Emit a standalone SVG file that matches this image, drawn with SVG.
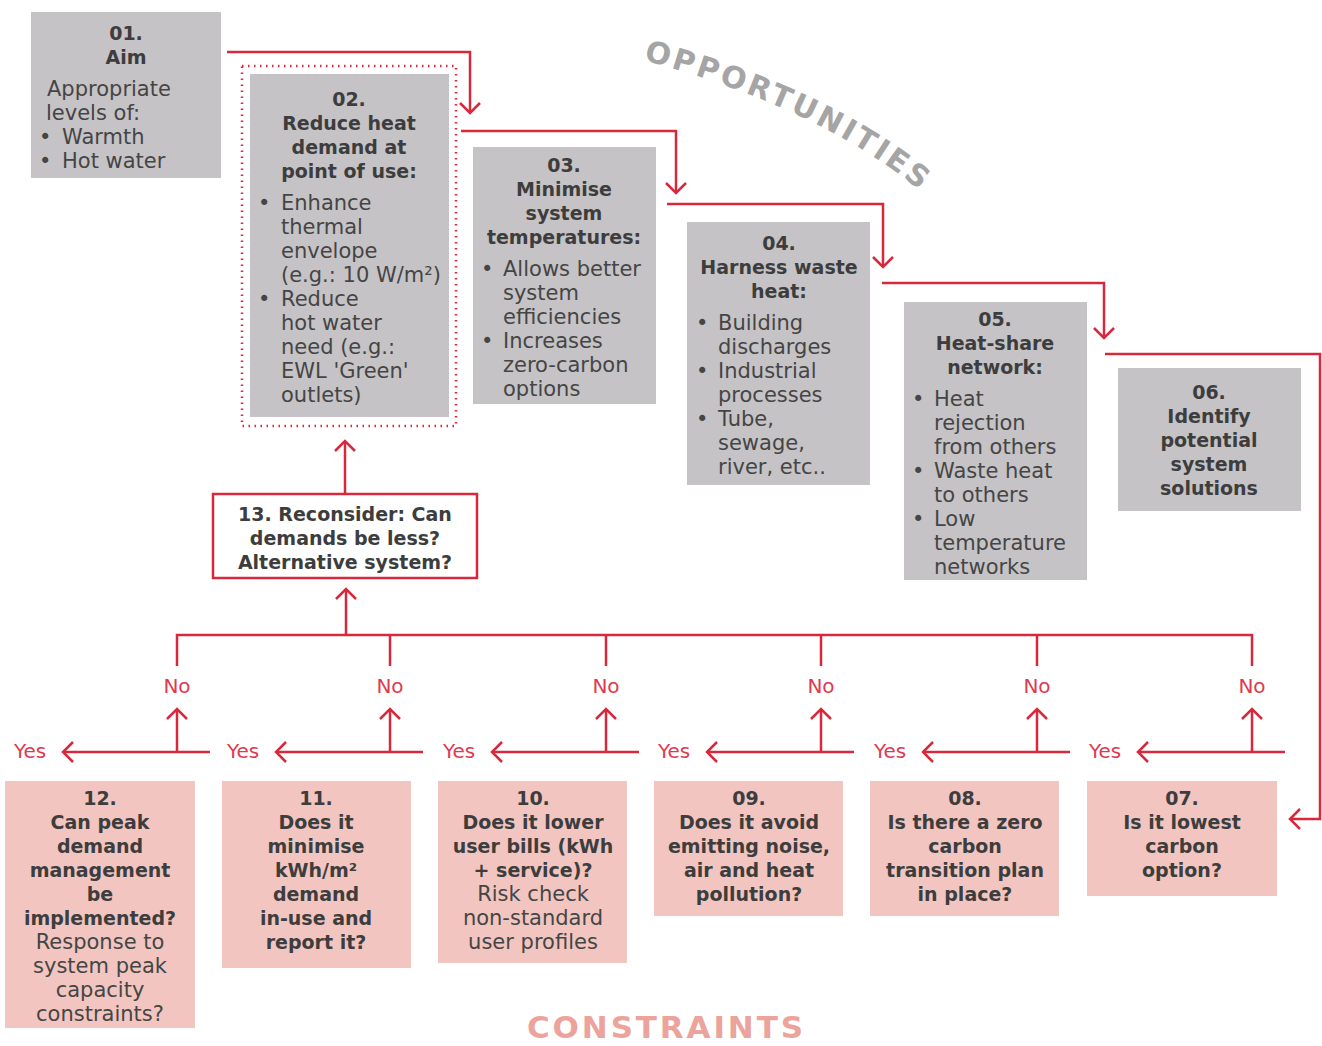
<svg xmlns="http://www.w3.org/2000/svg" width="1322" height="1046" viewBox="0 0 1322 1046">
<style>
.box{fill:#c5c3c5}
.pbox{fill:#f2c5c0}
.h{font-family:'DejaVu Sans',sans-serif;font-weight:bold;font-size:19px;fill:#3d3d3d;text-anchor:middle}
.t{font-family:'DejaVu Sans',sans-serif;font-size:21px;fill:#454545}
.tc{font-family:'DejaVu Sans',sans-serif;font-size:21px;fill:#454545;text-anchor:middle}
.yn{font-family:'DejaVu Sans',sans-serif;font-size:20px;fill:#e0394f}
.no{text-anchor:middle}
.c{fill:none;stroke:#d7283c;stroke-width:2.5}
.ca{fill:none;stroke:#d7283c;stroke-width:2.5;marker-end:url(#ah)}
</style>
<defs>
<marker id="ah" viewBox="-12 -12 24 24" markerWidth="24" markerHeight="24" markerUnits="userSpaceOnUse" orient="auto">
<path d="M-10,-10 L0,0 L-10,10" fill="none" stroke="#d7283c" stroke-width="2.5"/>
</marker>
<path id="oppPath" d="M643,60 Q822,108 924,194"/>
</defs>

<text font-family="'DejaVu Sans',sans-serif" font-weight="bold" font-size="30" fill="#a5a5a5" letter-spacing="3"><textPath href="#oppPath">OPPORTUNITIES</textPath></text>
<text x="527" y="1038" font-family="'DejaVu Sans',sans-serif" font-weight="bold" font-size="31" fill="#eba39c" textLength="276" lengthAdjust="spacing">CONSTRAINTS</text>

<g id="connectors">
<path class="ca" d="M227,52 H470 V113"/>
<path class="ca" d="M461,131 H676 V193"/>
<path class="ca" d="M667,204 H883 V267"/>
<path class="ca" d="M882,283 H1104 V338"/>
<path class="ca" d="M1105,354 H1320 V819 H1290"/>
<path class="ca" d="M345,494 V441"/>
<path class="ca" d="M346,635 V589"/>
<path class="c" d="M177,666 V635 H1252 V666"/>
<path class="c" d="M390,635 V666 M606,635 V666 M821,635 V666 M1037,635 V666"/>
<path class="ca" d="M210,752 H63"/><path class="ca" d="M177,752 V709"/>
<path class="ca" d="M423,752 H276"/><path class="ca" d="M390,752 V709"/>
<path class="ca" d="M639,752 H492"/><path class="ca" d="M606,752 V709"/>
<path class="ca" d="M854,752 H707"/><path class="ca" d="M821,752 V709"/>
<path class="ca" d="M1070,752 H923"/><path class="ca" d="M1037,752 V709"/>
<path class="ca" d="M1285,752 H1138"/><path class="ca" d="M1252,752 V709"/>
</g>

<g id="labels">
<text class="yn no" x="177" y="693">No</text><text class="yn" x="14" y="758">Yes</text>
<text class="yn no" x="390" y="693">No</text><text class="yn" x="227" y="758">Yes</text>
<text class="yn no" x="606" y="693">No</text><text class="yn" x="443" y="758">Yes</text>
<text class="yn no" x="821" y="693">No</text><text class="yn" x="658" y="758">Yes</text>
<text class="yn no" x="1037" y="693">No</text><text class="yn" x="874" y="758">Yes</text>
<text class="yn no" x="1252" y="693">No</text><text class="yn" x="1089" y="758">Yes</text>
</g>

<g id="n01">
<rect class="box" x="31" y="12" width="190" height="166"/>
<text class="h" x="126" y="40">01.</text>
<text class="h" x="126" y="64">Aim</text>
<text class="t" x="47" y="96">Appropriate</text>
<text class="t" x="46" y="120">levels of:</text>
<text class="t" x="39" y="144">•</text><text class="t" x="62" y="144">Warmth</text>
<text class="t" x="39" y="168">•</text><text class="t" x="62" y="168">Hot water</text>
</g>

<g id="n02">
<rect x="242" y="66" width="214" height="360" fill="none" stroke="#e0283c" stroke-width="2.5" stroke-dasharray="1.5 4.5"/>
<rect class="box" x="250" y="74" width="199" height="343"/>
<text class="h" x="349" y="106">02.</text>
<text class="h" x="349" y="130">Reduce heat</text>
<text class="h" x="349" y="154">demand at</text>
<text class="h" x="349" y="178">point of use:</text>
<text class="t" x="258" y="210">•</text><text class="t" x="281" y="210">Enhance</text>
<text class="t" x="281" y="234">thermal</text>
<text class="t" x="281" y="258">envelope</text>
<text class="t" x="281" y="282">(e.g.: 10 W/m²)</text>
<text class="t" x="258" y="306">•</text><text class="t" x="281" y="306">Reduce</text>
<text class="t" x="281" y="330">hot water</text>
<text class="t" x="281" y="354">need (e.g.:</text>
<text class="t" x="281" y="378">EWL 'Green'</text>
<text class="t" x="281" y="402">outlets)</text>
</g>

<g id="n03">
<rect class="box" x="473" y="147" width="183" height="257"/>
<text class="h" x="564" y="172">03.</text>
<text class="h" x="564" y="196">Minimise</text>
<text class="h" x="564" y="220">system</text>
<text class="h" x="564" y="244">temperatures:</text>
<text class="t" x="481" y="276">•</text><text class="t" x="503" y="276">Allows better</text>
<text class="t" x="503" y="300">system</text>
<text class="t" x="503" y="324">efficiencies</text>
<text class="t" x="481" y="348">•</text><text class="t" x="503" y="348">Increases</text>
<text class="t" x="503" y="372">zero-carbon</text>
<text class="t" x="503" y="396">options</text>
</g>

<g id="n04">
<rect class="box" x="687" y="222" width="183" height="263"/>
<text class="h" x="779" y="250">04.</text>
<text class="h" x="779" y="274">Harness waste</text>
<text class="h" x="779" y="298">heat:</text>
<text class="t" x="696" y="330">•</text><text class="t" x="718" y="330">Building</text>
<text class="t" x="718" y="354">discharges</text>
<text class="t" x="696" y="378">•</text><text class="t" x="718" y="378">Industrial</text>
<text class="t" x="718" y="402">processes</text>
<text class="t" x="696" y="426">•</text><text class="t" x="718" y="426">Tube,</text>
<text class="t" x="718" y="450">sewage,</text>
<text class="t" x="718" y="474">river, etc..</text>
</g>

<g id="n05">
<rect class="box" x="904" y="302" width="183" height="278"/>
<text class="h" x="995" y="326">05.</text>
<text class="h" x="995" y="350">Heat-share</text>
<text class="h" x="995" y="374">network:</text>
<text class="t" x="912" y="406">•</text><text class="t" x="934" y="406">Heat</text>
<text class="t" x="934" y="430">rejection</text>
<text class="t" x="934" y="454">from others</text>
<text class="t" x="912" y="478">•</text><text class="t" x="934" y="478">Waste heat</text>
<text class="t" x="934" y="502">to others</text>
<text class="t" x="912" y="526">•</text><text class="t" x="934" y="526">Low</text>
<text class="t" x="934" y="550">temperature</text>
<text class="t" x="934" y="574">networks</text>
</g>

<g id="n06">
<rect class="box" x="1118" y="368" width="183" height="143"/>
<text class="h" x="1209" y="399">06.</text>
<text class="h" x="1209" y="423">Identify</text>
<text class="h" x="1209" y="447">potential</text>
<text class="h" x="1209" y="471">system</text>
<text class="h" x="1209" y="495">solutions</text>
</g>

<g id="n13">
<rect x="213" y="494" width="264" height="84" fill="#ffffff" stroke="#d7283c" stroke-width="2.5"/>
<text class="h" x="345" y="521">13. Reconsider: Can</text>
<text class="h" x="345" y="545">demands be less?</text>
<text class="h" x="345" y="569">Alternative system?</text>
</g>

<g id="n12">
<rect class="pbox" x="5" y="781" width="190" height="247"/>
<text class="h" x="100" y="805">12.</text>
<text class="h" x="100" y="829">Can peak</text>
<text class="h" x="100" y="853">demand</text>
<text class="h" x="100" y="877">management</text>
<text class="h" x="100" y="901">be</text>
<text class="h" x="100" y="925">implemented?</text>
<text class="tc" x="100" y="949">Response to</text>
<text class="tc" x="100" y="973">system peak</text>
<text class="tc" x="100" y="997">capacity</text>
<text class="tc" x="100" y="1021">constraints?</text>
</g>

<g id="n11">
<rect class="pbox" x="222" y="781" width="189" height="187"/>
<text class="h" x="316" y="805">11.</text>
<text class="h" x="316" y="829">Does it</text>
<text class="h" x="316" y="853">minimise</text>
<text class="h" x="316" y="877">kWh/m²</text>
<text class="h" x="316" y="901">demand</text>
<text class="h" x="316" y="925">in-use and</text>
<text class="h" x="316" y="949">report it?</text>
</g>

<g id="n10">
<rect class="pbox" x="438" y="781" width="189" height="182"/>
<text class="h" x="533" y="805">10.</text>
<text class="h" x="533" y="829">Does it lower</text>
<text class="h" x="533" y="853">user bills (kWh</text>
<text class="h" x="533" y="877">+ service)?</text>
<text class="tc" x="533" y="901">Risk check</text>
<text class="tc" x="533" y="925">non-standard</text>
<text class="tc" x="533" y="949">user profiles</text>
</g>

<g id="n09">
<rect class="pbox" x="654" y="781" width="189" height="135"/>
<text class="h" x="749" y="805">09.</text>
<text class="h" x="749" y="829">Does it avoid</text>
<text class="h" x="749" y="853">emitting noise,</text>
<text class="h" x="749" y="877">air and heat</text>
<text class="h" x="749" y="901">pollution?</text>
</g>

<g id="n08">
<rect class="pbox" x="870" y="781" width="189" height="135"/>
<text class="h" x="965" y="805">08.</text>
<text class="h" x="965" y="829">Is there a zero</text>
<text class="h" x="965" y="853">carbon</text>
<text class="h" x="965" y="877">transition plan</text>
<text class="h" x="965" y="901">in place?</text>
</g>

<g id="n07">
<rect class="pbox" x="1087" y="781" width="190" height="115"/>
<text class="h" x="1182" y="805">07.</text>
<text class="h" x="1182" y="829">Is it lowest</text>
<text class="h" x="1182" y="853">carbon</text>
<text class="h" x="1182" y="877">option?</text>
</g>
</svg>
